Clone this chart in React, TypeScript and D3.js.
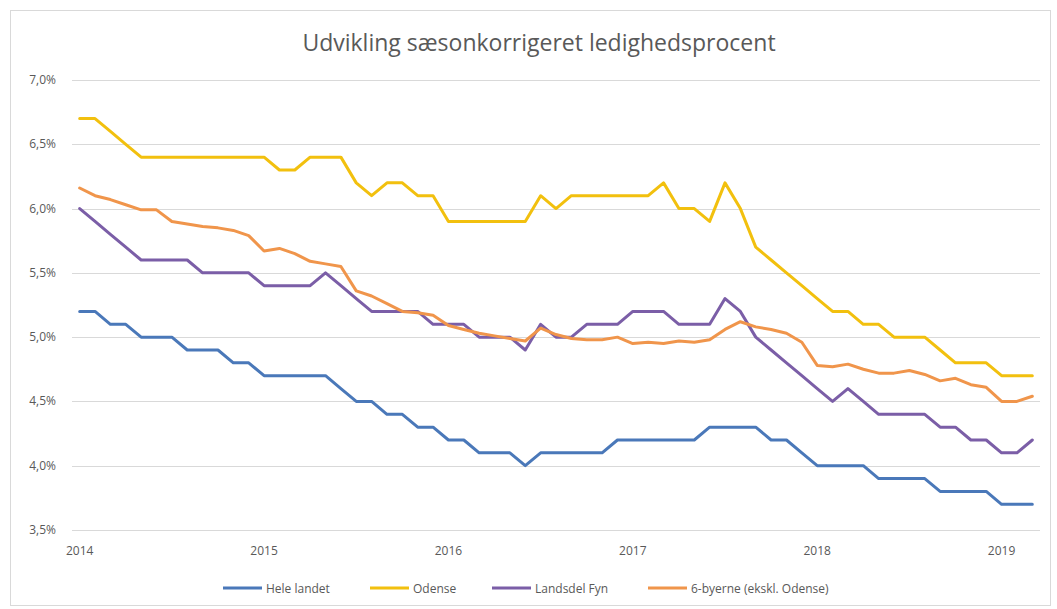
import React from 'react'
import * as d3 from 'd3'

// monthly, Jan 2014 .. Mar 2019
const months = d3.range(63)

const heleLandet = [
  5.2, 5.2, 5.1, 5.1, 5.0, 5.0, 5.0, 4.9, 4.9, 4.9,
  4.8, 4.8, 4.7, 4.7, 4.7, 4.7, 4.7, 4.6, 4.5, 4.5,
  4.4, 4.4, 4.3, 4.3, 4.2, 4.2, 4.1, 4.1, 4.1, 4.0,
  4.1, 4.1, 4.1, 4.1, 4.1, 4.2, 4.2, 4.2, 4.2, 4.2,
  4.2, 4.3, 4.3, 4.3, 4.3, 4.2, 4.2, 4.1, 4.0, 4.0,
  4.0, 4.0, 3.9, 3.9, 3.9, 3.9, 3.8, 3.8, 3.8, 3.8,
  3.7, 3.7, 3.7,
]

const odense = [
  6.7, 6.7, 6.6, 6.5, 6.4, 6.4, 6.4, 6.4, 6.4, 6.4,
  6.4, 6.4, 6.4, 6.3, 6.3, 6.4, 6.4, 6.4, 6.2, 6.1,
  6.2, 6.2, 6.1, 6.1, 5.9, 5.9, 5.9, 5.9, 5.9, 5.9,
  6.1, 6.0, 6.1, 6.1, 6.1, 6.1, 6.1, 6.1, 6.2, 6.0,
  6.0, 5.9, 6.2, 6.0, 5.7, 5.6, 5.5, 5.4, 5.3, 5.2,
  5.2, 5.1, 5.1, 5.0, 5.0, 5.0, 4.9, 4.8, 4.8, 4.8,
  4.7, 4.7, 4.7,
]

const landsdelFyn = [
  6.0, 5.9, 5.8, 5.7, 5.6, 5.6, 5.6, 5.6, 5.5, 5.5,
  5.5, 5.5, 5.4, 5.4, 5.4, 5.4, 5.5, 5.4, 5.3, 5.2,
  5.2, 5.2, 5.2, 5.1, 5.1, 5.1, 5.0, 5.0, 5.0, 4.9,
  5.1, 5.0, 5.0, 5.1, 5.1, 5.1, 5.2, 5.2, 5.2, 5.1,
  5.1, 5.1, 5.3, 5.2, 5.0, 4.9, 4.8, 4.7, 4.6, 4.5,
  4.6, 4.5, 4.4, 4.4, 4.4, 4.4, 4.3, 4.3, 4.2, 4.2,
  4.1, 4.1, 4.2,
]

const seksByerne = [
  6.16, 6.10, 6.07, 6.03, 5.99, 5.99, 5.90, 5.88, 5.86, 5.85,
  5.83, 5.79, 5.67, 5.69, 5.65, 5.59, 5.57, 5.55, 5.36, 5.32,
  5.26, 5.20, 5.19, 5.17, 5.09, 5.06, 5.03, 5.01, 4.99, 4.97,
  5.07, 5.02, 4.99, 4.98, 4.98, 5.00, 4.95, 4.96, 4.95, 4.97,
  4.96, 4.98, 5.06, 5.12, 5.08, 5.06, 5.03, 4.96, 4.78, 4.77,
  4.79, 4.75, 4.72, 4.72, 4.74, 4.71, 4.66, 4.68, 4.63, 4.61,
  4.50, 4.50, 4.54,
]

const yearLabels = ['2014', '2015', '2016', '2017', '2018', '2019']
const yTicks = [3.5, 4.0, 4.5, 5.0, 5.5, 6.0, 6.5, 7.0]

const series = [
  { name: 'Hele landet', values: heleLandet, color: '#4a78b9' },
  { name: 'Odense', values: odense, color: '#f2c00e' },
  { name: 'Landsdel Fyn', values: landsdelFyn, color: '#7b5ea7' },
  { name: '6-byerne (ekskl. Odense)', values: seksByerne, color: '#f0954b' },
]

const W = 1057
const H = 609
const font = '"Open Sans", sans-serif'
const textColor = '#595959'

export default function App() {
  const x = d3.scalePoint<number>().domain(months).range([72, 1040]).padding(0.5)
  const y = d3.scaleLinear().domain([3.5, 7.0]).range([530, 80])

  const line = d3.line<number>()
    .x((_, i) => x(i) as number)
    .y(d => y(d))

  const fmt = (v: number) => v.toFixed(1).replace('.', ',') + '%'

  const legendX = [223, 370, 492, 648]

  return (
    <svg width={W} height={H} style={{ position: 'absolute', left: 0, top: 0, background: '#fff' }}>
      <rect x={10.5} y={10.5} width={1040} height={595} fill="#fff" stroke="#d9d9d9" />
      <text x={539} y={51} textAnchor="middle" fontFamily={font} fontSize={23} fill={textColor}>
        Udvikling sæsonkorrigeret ledighedsprocent
      </text>

      {yTicks.map(t => (
        <g key={t}>
          <line x1={72} x2={1040} y1={Math.round(y(t)) + 0.5} y2={Math.round(y(t)) + 0.5} stroke="#d9d9d9" strokeWidth={1} />
          <text x={56} y={y(t) + 4} textAnchor="end" fontFamily={font} fontSize={12} fill={textColor}>
            {fmt(t)}
          </text>
        </g>
      ))}

      {yearLabels.map((lab, k) => (
        <text key={lab} x={x(k * 12)} y={555} textAnchor="middle" fontFamily={font} fontSize={12} fill={textColor}>
          {lab}
        </text>
      ))}

      {series.map(s => (
        <path key={s.name} d={line(s.values) || ''} fill="none" stroke={s.color} strokeWidth={3} strokeLinejoin="round" strokeLinecap="round" />
      ))}

      {series.map((s, i) => (
        <g key={s.name} transform={`translate(${legendX[i]},588)`}>
          <line x1={0} x2={39} y1={0} y2={0} stroke={s.color} strokeWidth={3} />
          <text x={43} y={4.5} fontFamily={font} fontSize={12} fill={textColor}>{s.name}</text>
        </g>
      ))}
    </svg>
  )
}
